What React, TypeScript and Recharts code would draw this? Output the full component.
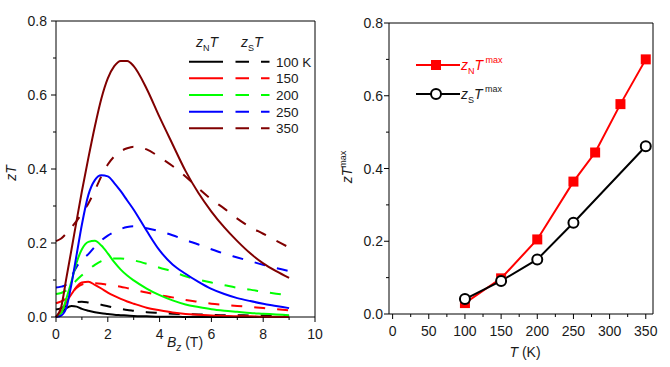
import React from 'react';
import { LineChart, Line, XAxis, YAxis } from 'recharts';

// field grid (T) shared by all curves of the left panel
const bz = [0, 0.2, 0.4, 0.6, 0.8, 1, 1.25, 1.5, 1.75, 2, 2.25, 2.5, 2.75, 3, 3.5, 4, 4.5, 5, 5.5, 6, 6.5, 7, 7.5, 8, 8.5, 9];

const zN100 = [0, 0.012, 0.024, 0.03, 0.028, 0.022, 0.017, 0.013, 0.01, 0.008, 0.006, 0.005, 0.004, 0.003, 0.002, 0.001, 0.001, 0, 0, 0, 0, 0, 0, 0, 0, 0];
const zS100 = [0.02, 0.024, 0.03, 0.036, 0.04, 0.041, 0.039, 0.036, 0.033, 0.029, 0.025, 0.022, 0.019, 0.017, 0.013, 0.011, 0.009, 0.008, 0.007, 0.006, 0.005, 0.005, 0.004, 0.004, 0.003, 0.003];
const zN150 = [0, 0.015, 0.04, 0.062, 0.082, 0.093, 0.095, 0.087, 0.077, 0.066, 0.057, 0.049, 0.042, 0.036, 0.025, 0.018, 0.012, 0.008, 0.006, 0.004, 0.003, 0.002, 0.002, 0.001, 0.001, 0.001];
const zS150 = [0.037, 0.042, 0.05, 0.065, 0.079, 0.088, 0.091, 0.091, 0.09, 0.087, 0.085, 0.082, 0.078, 0.074, 0.066, 0.059, 0.053, 0.046, 0.041, 0.036, 0.033, 0.03, 0.027, 0.024, 0.021, 0.018];
const zN200 = [0, 0.01, 0.05, 0.097, 0.148, 0.183, 0.203, 0.206, 0.193, 0.172, 0.148, 0.128, 0.112, 0.099, 0.077, 0.059, 0.045, 0.034, 0.027, 0.021, 0.017, 0.014, 0.011, 0.009, 0.007, 0.005];
const zS200 = [0.062, 0.065, 0.072, 0.085, 0.1, 0.113, 0.128, 0.141, 0.151, 0.156, 0.158, 0.158, 0.156, 0.153, 0.144, 0.133, 0.123, 0.11, 0.101, 0.093, 0.086, 0.079, 0.074, 0.068, 0.063, 0.059];
const zN250 = [0, 0.004, 0.025, 0.09, 0.17, 0.25, 0.33, 0.37, 0.383, 0.38, 0.362, 0.34, 0.315, 0.29, 0.233, 0.18, 0.142, 0.117, 0.095, 0.076, 0.062, 0.051, 0.043, 0.036, 0.03, 0.024];
const zS250 = [0.08, 0.082, 0.088, 0.11, 0.136, 0.155, 0.17, 0.19, 0.207, 0.22, 0.23, 0.238, 0.243, 0.245, 0.24, 0.232, 0.221, 0.208, 0.196, 0.183, 0.171, 0.161, 0.151, 0.141, 0.132, 0.124];
const zN350 = [0, 0.027, 0.105, 0.183, 0.262, 0.34, 0.43, 0.515, 0.59, 0.645, 0.678, 0.692, 0.692, 0.678, 0.617, 0.54, 0.467, 0.395, 0.335, 0.285, 0.242, 0.205, 0.172, 0.145, 0.124, 0.106];
const zS350 = [0.205, 0.212, 0.226, 0.243, 0.26, 0.28, 0.307, 0.342, 0.38, 0.412, 0.434, 0.448, 0.456, 0.46, 0.453, 0.432, 0.408, 0.38, 0.348, 0.318, 0.293, 0.266, 0.243, 0.225, 0.206, 0.188];

const tempLabels = ['100 K', '150', '200', '250', '350'];
const tempColors = ['#000000', '#ff0000', '#00ff00', '#0000ff', '#800000'];
const nSeries = [zN100, zN150, zN200, zN250, zN350];
const sSeries = [zS100, zS150, zS200, zS250, zS350];

// right panel: maximum zT vs temperature
const tN = [100, 150, 200, 250, 280, 315, 350];
const zNmax = [0.03, 0.098, 0.205, 0.364, 0.444, 0.577, 0.7];
const tS = [100, 150, 200, 250, 350];
const zSmax = [0.041, 0.091, 0.15, 0.251, 0.461];

// ticks
const bzMajor = [0, 2, 4, 6, 8, 10];
const bzAll = [0, 1, 2, 3, 4, 5, 6, 7, 8, 9, 10];
const tMajor = [0, 50, 100, 150, 200, 250, 300, 350];
const tAll = [0, 25, 50, 75, 100, 125, 150, 175, 200, 225, 250, 275, 300, 325, 350];
const yMajor = [0, 0.2, 0.4, 0.6, 0.8];
const yAll = [0, 0.1, 0.2, 0.3, 0.4, 0.5, 0.6, 0.7, 0.8];

const leftData = bz.map((b, i) => {
  const row: Record<string, number> = { bz: b };
  nSeries.forEach((s, k) => (row['n' + k] = s[i]));
  sSeries.forEach((s, k) => (row['s' + k] = s[i]));
  return row;
});
const nMaxData = tN.map((t, i) => ({ t, v: zNmax[i] }));
const sMaxData = tS.map((t, i) => ({ t, v: zSmax[i] }));

const FONT = '"Liberation Sans", Arial, sans-serif';
const TXT = '#1a1a1a';
const DASH = '11 12';

const isMajor = (majors: number[], v: number) => majors.some((m) => Math.abs(m - v) < 1e-9);

// outward ticks: long marks + labels on majors, short marks on minors
const bottomTick = (majors: number[]) => (p: any) => {
  const v = p.payload.value;
  const big = isMajor(majors, v);
  return (
    <g>
      <line x1={p.x} x2={p.x} y1={p.y} y2={p.y + (big ? 5 : 3)} stroke="#000" />
      {big && (
        <text x={p.x} y={p.y + 21.5} textAnchor="middle" fontSize={14} fontFamily={FONT} fill={TXT}>
          {String(v)}
        </text>
      )}
    </g>
  );
};
const leftTick = (majors: number[], gap: number) => (p: any) => {
  const v = p.payload.value;
  const big = isMajor(majors, v);
  return (
    <g>
      <line x1={p.x} x2={p.x - (big ? 5 : 3)} y1={p.y} y2={p.y} stroke="#000" />
      {big && (
        <text x={p.x - gap} y={p.y + 5} textAnchor="end" fontSize={14} fontFamily={FONT} fill={TXT}>
          {v.toFixed(1)}
        </text>
      )}
    </g>
  );
};

const SquareDot = (p: any) => (
  <rect key={'sq' + p.index} x={p.cx - 5} y={p.cy - 5} width={10} height={10} fill="#ff0000" />
);
const CircleDot = (p: any) => (
  <circle key={'ci' + p.index} cx={p.cx} cy={p.cy} r={5} fill="#fff" stroke="#000" strokeWidth={2} />
);

const LeftChart = () => (
  <LineChart width={335} height={367} data={leftData} margin={{ top: 21, right: 20, bottom: 49, left: 55 }}>
    <XAxis dataKey="bz" type="number" domain={[0, 10]} ticks={bzAll} interval={0} height={1}
      tickSize={0} tickMargin={0} tickLine={false} stroke="#000" tick={bottomTick(bzMajor)} />
    <XAxis xAxisId="tp" dataKey="bz" orientation="top" mirror type="number" domain={[0, 10]}
      ticks={bzAll} interval={0} height={1} tickSize={4} tick={false} stroke="#000" />
    <YAxis type="number" domain={[0, 0.8]} ticks={yAll} interval={0} width={1} tickSize={0} tickMargin={0}
      tickLine={false} stroke="#000" tick={leftTick(yMajor, 9)} />
    <YAxis yAxisId="rt" orientation="right" mirror type="number" domain={[0, 0.8]} ticks={yAll} interval={0}
      width={1} tickSize={4} tick={false} stroke="#000" />
    {sSeries.map((_, k) => (
      <Line key={'s' + k} dataKey={'s' + k} type="monotone" stroke={tempColors[k]} strokeWidth={2}
        strokeDasharray={DASH} dot={false} isAnimationActive={false} />
    ))}
    {nSeries.map((_, k) => (
      <Line key={'n' + k} dataKey={'n' + k} type="monotone" stroke={tempColors[k]} strokeWidth={2}
        dot={false} isAnimationActive={false} />
    ))}
  </LineChart>
);

const RightChart = () => (
  <LineChart width={335} height={367} margin={{ top: 23, right: 17, bottom: 52, left: 53 }}>
    <XAxis dataKey="t" type="number" domain={[-5, 360]} ticks={tAll} interval={0} height={1}
      tickSize={0} tickMargin={0} tickLine={false} stroke="#000" tick={bottomTick(tMajor)} />
    <XAxis xAxisId="tp" dataKey="t" orientation="top" mirror type="number" domain={[-5, 360]}
      ticks={tAll} interval={0} height={1} tickSize={4} tick={false} stroke="#000" />
    <YAxis type="number" domain={[0, 0.8]} ticks={yAll} interval={0} width={1} tickSize={0} tickMargin={0}
      tickLine={false} stroke="#000" tick={leftTick(yMajor, 6)} />
    <YAxis yAxisId="rt" orientation="right" mirror type="number" domain={[0, 0.8]} ticks={yAll} interval={0}
      width={1} tickSize={4} tick={false} stroke="#000" />
    <Line data={nMaxData} dataKey="v" type="linear" stroke="#ff0000" strokeWidth={2} dot={SquareDot}
      isAnimationActive={false} />
    <Line data={sMaxData} dataKey="v" type="linear" stroke="#000000" strokeWidth={2} dot={CircleDot}
      isAnimationActive={false} />
  </LineChart>
);

// axis titles and legends
const Overlay = () => {
  const rowY = [61.7, 78.3, 95, 111.7, 128.3];
  return (
    <svg width={670} height={367} style={{ position: 'absolute', left: 0, top: 0, pointerEvents: 'none' }}
      fontFamily={FONT} fill={TXT}>
      <text transform="translate(15.5,173) rotate(-90)" textAnchor="middle" fontSize={14} fontStyle="italic">zT</text>
      <text x={185} y={347} textAnchor="middle" fontSize={14}>
        <tspan fontStyle="italic">B</tspan>
        <tspan fontStyle="italic" fontSize={10} dy={4}>z</tspan>
        <tspan dy={-4}> (T)</tspan>
      </text>
      <text transform="translate(352,167) rotate(-90)" textAnchor="middle" fontSize={14}>
        <tspan fontStyle="italic">zT</tspan>
        <tspan fontSize={9} dy={-6}>max</tspan>
      </text>
      <text x={525} y={357} textAnchor="middle" fontSize={14}>
        <tspan fontStyle="italic">T</tspan>
        <tspan> (K)</tspan>
      </text>

      <text x={196} y={47} fontSize={14}>
        <tspan fontStyle="italic">z</tspan>
        <tspan fontSize={9} dy={4}>N</tspan>
        <tspan fontStyle="italic" dy={-4}>T</tspan>
      </text>
      <text x={241} y={47} fontSize={14}>
        <tspan fontStyle="italic">z</tspan>
        <tspan fontSize={9} dy={4}>S</tspan>
        <tspan fontStyle="italic" dy={-4}>T</tspan>
      </text>
      {tempLabels.map((lab, k) => (
        <g key={lab}>
          <line x1={189} x2={223} y1={rowY[k]} y2={rowY[k]} stroke={tempColors[k]} strokeWidth={2} />
          <line x1={235.5} x2={269.5} y1={rowY[k]} y2={rowY[k]} stroke={tempColors[k]} strokeWidth={2}
            strokeDasharray="13.5 12" />
          <text x={276} y={rowY[k] + 5} fontSize={13.5}>{lab}</text>
        </g>
      ))}

      <line x1={416} x2={460} y1={65} y2={65} stroke="#ff0000" strokeWidth={2} />
      <rect x={431} y={60} width={10} height={10} fill="#ff0000" />
      <text x={461} y={70} fontSize={14} fill="#ff0000">
        <tspan fontStyle="italic">z</tspan>
        <tspan fontSize={9} dy={4}>N</tspan>
        <tspan fontStyle="italic" dy={-4}>T</tspan>
        <tspan fontSize={9} dy={-7}> max</tspan>
      </text>
      <line x1={416} x2={460} y1={94} y2={94} stroke="#000" strokeWidth={2} />
      <circle cx={436} cy={94} r={5} fill="#fff" stroke="#000" strokeWidth={2} />
      <text x={461} y={99} fontSize={14}>
        <tspan fontStyle="italic">z</tspan>
        <tspan fontSize={9} dy={4}>S</tspan>
        <tspan fontStyle="italic" dy={-4}>T</tspan>
        <tspan fontSize={9} dy={-7}> max</tspan>
      </text>
    </svg>
  );
};

export default function App() {
  return (
    <div style={{ position: 'absolute', left: 0, top: 0, width: 670, height: 367, background: '#fff' }}>
      <div style={{ position: 'absolute', left: 0, top: 0 }}>
        <LeftChart />
      </div>
      <div style={{ position: 'absolute', left: 335, top: 0 }}>
        <RightChart />
      </div>
      <Overlay />
    </div>
  );
}
